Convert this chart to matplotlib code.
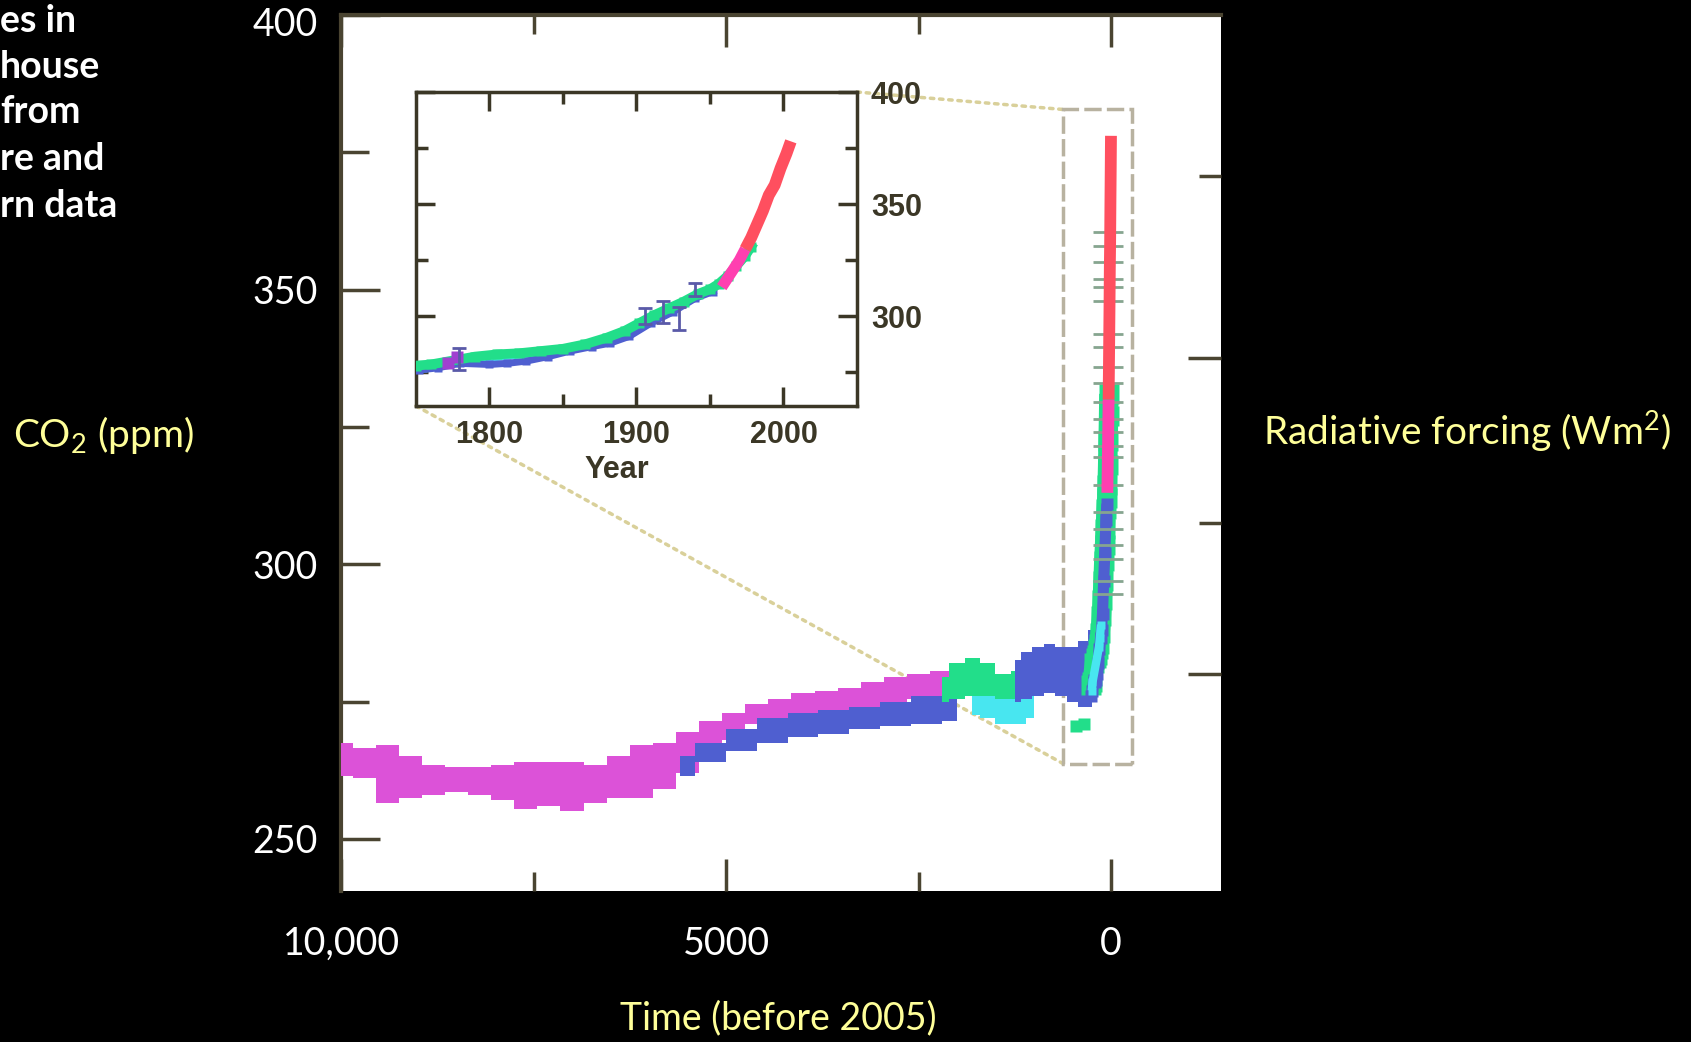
import numpy as np
import matplotlib
matplotlib.use("Agg")
import matplotlib.pyplot as plt
from matplotlib.patches import Rectangle, ConnectionPatch

plt.rcParams['font.family'] = ['Lato', 'DejaVu Sans']
plt.rcParams['mathtext.fontset'] = 'custom'
plt.rcParams['mathtext.rm'] = 'Lato'
plt.rcParams['mathtext.it'] = 'Lato:italic'
plt.rcParams['mathtext.bf'] = 'Lato:bold'

# ---- data ----
# long ice-core record (years before 2005), drawn as bands: upper / lower edge in ppm
holo_t = [10000, 9700, 9400, 9100, 8800, 8500, 8200, 7900, 7600, 7300, 7000, 6700, 6400, 6100,
          5800, 5500, 5200, 4900, 4600, 4300, 4000, 3700, 3400, 3100, 2800, 2500, 2200, 1900]
holo_hi = [267.5, 266.5, 267, 265, 263.5, 263, 263, 263.5, 264, 264, 264, 263.5, 265, 267,
           267.5, 269.5, 271.5, 273, 274.5, 275.5, 276.5, 277, 277.5, 278.5, 279.5, 280, 280.5, 281]
holo_lo = [261.5, 261, 256.5, 257.5, 258, 258.5, 258, 257, 255.5, 256, 255, 256.5, 257.5, 257.5,
           259, 262, 265, 268, 271, 272, 272.5, 273, 273.5, 274, 275, 275.5, 275.5, 276]

blue_t = [5600, 5200, 4800, 4400, 4000, 3600, 3200, 2800, 2400, 2000]
blue_hi = [265, 267.5, 270, 272, 273, 273.5, 274, 275, 276, 276]
blue_lo = [261.5, 264, 266, 267.5, 268.5, 269, 270, 270.5, 271, 271.5]

grn_t = [2200, 2000, 1800, 1600, 1400, 1200]
grn_hi = [279.5, 282, 283, 282, 280, 280.5]
grn_lo = [275, 275.5, 276, 276, 275.5, 275.5]

cyn_t = [1800, 1600, 1400, 1200, 1000]
cyn_hi = [276, 276, 275.5, 275.5, 276]
cyn_lo = [272.5, 272, 271, 271, 272]

blue2_t = [1250, 1100, 950, 800, 650, 500, 350, 250]
blue2_hi = [282.5, 284, 285, 285.5, 285, 285, 286, 288]
blue2_lo = [275, 275.5, 276, 276.5, 276, 275, 274, 274]

grn_pt_t = [450, 350]
grn_pt_co2 = [270.5, 271]

# last ~250 years of ice cores (calendar year)
ice_grn_year = [1750, 1760, 1790, 1805, 1820, 1835, 1850, 1865, 1880, 1892, 1902, 1912, 1922,
                1932, 1942, 1950, 1956, 1962, 1968, 1974, 1978]
ice_grn_co2 = [278, 278.5, 282, 283, 283.5, 284.5, 285.5, 287.5, 290.5, 293.5, 297, 300.5, 303.5,
               306.5, 310, 312, 314.5, 318, 322.5, 327, 331]
ice_blu_year = [1752, 1765, 1780, 1800, 1812, 1825, 1840, 1855, 1870, 1882, 1895, 1910, 1925, 1940, 1952]
ice_blu_co2 = [276, 277, 279, 278.5, 279, 280, 282, 284.5, 286.5, 288, 291, 297, 302, 308, 311]
ice_cyn_year = [1755, 1765, 1850, 1860, 1875]
ice_cyn_co2 = [277, 278.5, 285, 286.5, 289]
ice_pur_year = [1772, 1778]
ice_pur_co2 = [279, 282]

err_year = [1779, 1906, 1918, 1929, 1940]
err_co2 = [281, 300, 302, 299, 312]
err_half = [5, 3.5, 5, 5, 3]

# error-bar caps stacked at the present in the main panel
dash_t = 40
dash_co2 = [360.5, 358, 355, 352, 350.5, 348, 342, 339.5, 336, 333, 329.5, 326.5, 324, 321.5,
            319.5, 314.5, 309.5, 306.5, 303.5, 301, 297, 294.5]

# atmospheric record
mlo_year = [1958, 1962, 1966, 1970, 1974, 1978, 1982, 1986, 1990, 1994, 1998, 2002, 2005]
mlo_co2 = [313, 317, 321, 325, 330, 335, 341, 347, 354, 358.5, 366, 372.5, 378]

# zoom box drawn on the main panel (years before 2005, ppm)
box_t = (623, -273)
box_c = (263.7, 382.8)

# colours
MAGENTA = '#dc52d8'
BLUE = '#4f5fd0'
GREEN = '#22de8a'
CYAN = '#48e6f0'
PURPLE = '#a040d0'
RED = '#ff4f5f'
PINK = '#ff3fb0'
DASH = '#86a58f'
SPINE = '#4a4431'
INK = '#3b3726'
BOX = '#b8b2a0'
DOT = '#d9d09a'
YELLOW = '#ffff99'

fig = plt.figure(figsize=(16.91, 10.42), dpi=100, facecolor='black')

# ---- main panel ----
ax = fig.add_axes([0.2017, 0.1449, 0.5204, 0.8407])
ax.set_facecolor('white')
ax.set_xlim(10000, -1430)
ax.set_ylim(240.5, 400)

ax.fill_between(holo_t, holo_lo, holo_hi, step='mid', color=MAGENTA, lw=0, zorder=3)
ax.fill_between(blue_t, blue_lo, blue_hi, step='mid', color=BLUE, lw=0, zorder=4)
ax.fill_between(cyn_t, cyn_lo, cyn_hi, step='mid', color=CYAN, lw=0, zorder=3)
ax.fill_between(grn_t, grn_lo, grn_hi, step='mid', color=GREEN, lw=0, zorder=4)
ax.fill_between(blue2_t, blue2_lo, blue2_hi, step='mid', color=BLUE, lw=0, zorder=5)
ax.plot(grn_pt_t, grn_pt_co2, 's', ms=8, color=GREEN, mec='none', zorder=5)

for yrs, vals, col, w in [(ice_grn_year, ice_grn_co2, GREEN, 14), (ice_blu_year, ice_blu_co2, BLUE, 8),
                          (ice_cyn_year, ice_cyn_co2, CYAN, 6)]:
    ax.plot(2005 - np.array(yrs), vals, '-s', lw=w, ms=w, color=col, mec='none',
            solid_capstyle='butt', zorder=6)
ax.plot(np.full(len(dash_co2), dash_t), dash_co2, '_', ms=21, mew=2, color=DASH, zorder=6)

mlo_t = 2005 - np.array(mlo_year)
ax.plot(mlo_t[:5], mlo_co2[:5], color=PINK, lw=8.5, solid_capstyle='butt', zorder=7)
ax.plot(mlo_t[4:], mlo_co2[4:], color=RED, lw=8.5, solid_capstyle='butt', zorder=7)

ax.add_patch(Rectangle((box_t[1], box_c[0]), box_t[0] - box_t[1], box_c[1] - box_c[0],
                       fill=False, ec=BOX, lw=2.5, ls=(0, (5, 1.5)), zorder=2))

for s in ['bottom', 'right']:
    ax.spines[s].set_visible(False)
for s in ['left', 'top']:
    ax.spines[s].set_color(SPINE)
    ax.spines[s].set_linewidth(3)

ax.set_xticks([10000, 5000, 0])
ax.set_xticklabels(['10,000', '5000', '0'])
ax.set_xticks([7500, 2500], minor=True)
ax.set_yticks([250, 300, 350, 400])
ax.set_yticklabels(['250', '300', '350', ''])
ax.set_yticks([275, 325, 375], minor=True)
ax.tick_params(axis='both', which='both', direction='in', color=SPINE, width=2.5,
               labelcolor='white', labelsize=27)
ax.tick_params(axis='x', which='both', top=True, bottom=True, pad=25)
ax.tick_params(axis='x', which='major', length=23)
ax.tick_params(axis='x', which='minor', length=14)
ax.tick_params(axis='y', which='both', left=True, right=False, pad=17)
ax.tick_params(axis='y', which='major', length=28)
ax.tick_params(axis='y', which='minor', length=20)
# the top label sits a little below its tick on the slide
ax.annotate('400', xy=(0, 400), xycoords=('axes fraction', 'data'), xytext=(-17, -7),
            textcoords='offset points', ha='right', va='center', color='white', fontsize=27,
            annotation_clip=False)

# radiative forcing ticks on the right (no labels)
rf = ax.secondary_yaxis('right', functions=(lambda c: 5.35 * np.log(np.clip(c, 1e-6, None) / 280.0),
                                             lambda f: 280.0 * np.exp(f / 5.35)))
rf.set_ticks([0, 1])
rf.set_ticks([0.5, 1.5], minor=True)
rf.spines['right'].set_visible(False)
rf.tick_params(which='both', direction='in', color=SPINE, width=2.5, labelright=False)
rf.tick_params(which='major', length=24)
rf.tick_params(which='minor', length=16)

# ---- inset ----
ins = fig.add_axes([0.246, 0.6104, 0.2608, 0.3013])
ins.set_facecolor('white')
ins.set_xlim(1750, 2050)
ins.set_ylim(260, 400)

ins.plot(ice_cyn_year, ice_cyn_co2, '-s', lw=5, ms=6, color=CYAN, mec='none', zorder=3)
ins.plot(ice_blu_year, ice_blu_co2, '-s', lw=5, ms=6, color=BLUE, mec='none', zorder=3)
ins.plot(ice_grn_year, ice_grn_co2, '-s', lw=7, ms=7, color=GREEN, mec='none', zorder=4)
ins.plot(ice_pur_year, ice_pur_co2, 's', ms=8, color=PURPLE, mec='none', zorder=4)
ins.errorbar(err_year, err_co2, yerr=err_half, fmt='none', ecolor='#5a5aa8', elinewidth=2,
             capsize=5, capthick=2, zorder=5)
ins.plot(mlo_year[:5], mlo_co2[:5], color=PINK, lw=8, solid_capstyle='butt', zorder=6)
ins.plot(mlo_year[4:], mlo_co2[4:], color=RED, lw=8.5, solid_capstyle='butt', zorder=6)

for s in ins.spines.values():
    s.set_color(INK)
    s.set_linewidth(2.5)
ins.set_xticks([1800, 1900, 2000])
ins.set_xticks([1850, 1950], minor=True)
ins.set_yticks([300, 350, 400])
ins.set_yticks([275, 325, 375], minor=True)
ins.tick_params(axis='both', which='both', direction='in', top=True, bottom=True, left=True,
                right=True, labelleft=False, labelright=True, color=INK, width=2.5,
                labelcolor=INK, labelsize=22, pad=10)
ins.tick_params(which='major', length=14)
ins.tick_params(which='minor', length=8.5)
ins.set_xlabel('Year', fontsize=22, fontweight='bold', color=INK, family='Liberation Sans')
ins.xaxis.set_label_coords(0.456, -0.155)
for lbl in ins.get_xticklabels() + ins.get_yticklabels():
    lbl.set_family('Liberation Sans')
    lbl.set_fontweight('bold')

# dotted connectors from inset to zoom box
for xyA, xyB in [((1, 1), (box_t[0], box_c[1])), ((0, 0), (box_t[0], box_c[0]))]:
    con = ConnectionPatch(xyA=xyA, coordsA=ins.transAxes, xyB=xyB, coordsB=ax.transData,
                          ls=':', lw=2.5, color=DOT, zorder=1)
    ax.add_artist(con)

# ---- slide text ----
title_lines = ['es in', 'house', 'from', 're and', 'rn data']
title_base = [32, 78, 123, 170, 217]
for txt, yb in zip(title_lines, title_base):
    fig.text(0.0, 1 - yb / 1042, txt, ha='left', va='baseline', color='white',
             fontsize=27, fontweight='bold')

fig.text(103 / 1691, 1 - 435 / 1042, 'CO$_2$ (ppm)', ha='center', va='center', color=YELLOW, fontsize=28)
fig.text(1467 / 1691, 1 - 431 / 1042, 'Radiative forcing (Wm$^2$)', ha='center', va='center',
         color=YELLOW, fontsize=28)
fig.text(778 / 1691, 1 - 1018 / 1042, 'Time (before 2005)', ha='center', va='center', color=YELLOW,
         fontsize=27)

fig.savefig('out.png', dpi=100, facecolor='black')
